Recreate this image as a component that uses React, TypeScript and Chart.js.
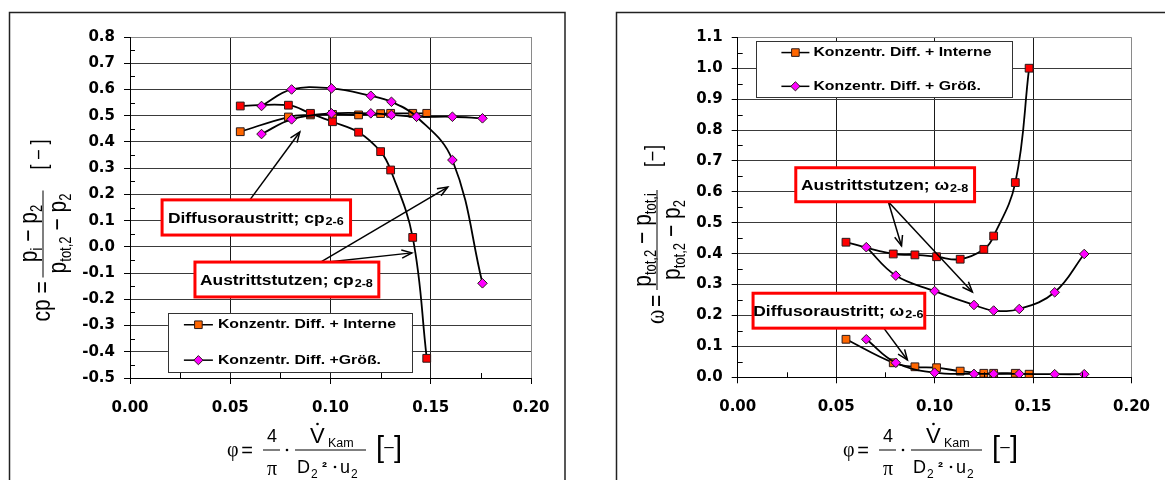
import React, { useEffect, useRef } from 'react';
import { Chart, registerables } from 'chart.js';

Chart.register(...registerables);

// ---------------- Left chart: pressure recovery cp ----------------
const phiInterneCp = [0.055, 0.079, 0.090, 0.101, 0.114, 0.125, 0.130, 0.141, 0.148];
const cp26Interne = [0.439, 0.495, 0.503, 0.505, 0.503, 0.508, 0.509, 0.509, 0.509];
const cp28Interne = [0.537, 0.540, 0.509, 0.477, 0.437, 0.363, 0.293, 0.036, -0.425];
const phiGroessCp = [0.0656, 0.0806, 0.1005, 0.1201, 0.1304, 0.1429, 0.1608, 0.1758];
const cp26Groess = [0.430, 0.486, 0.509, 0.509, 0.503, 0.496, 0.496, 0.490];
const cp28Groess = [0.537, 0.600, 0.604, 0.576, 0.553, 0.496, 0.331, -0.139];

// ---------------- Right chart: loss coefficient omega ----------------
const phiInterneOm = [0.055, 0.079, 0.090, 0.101, 0.113, 0.125, 0.130, 0.141, 0.148];
const om28Interne = [0.437, 0.399, 0.396, 0.390, 0.382, 0.414, 0.457, 0.630, 1.000];
const om26Interne = [0.123, 0.047, 0.034, 0.031, 0.020, 0.013, 0.013, 0.013, 0.010];
const phiGroessOm = [0.0653, 0.0803, 0.1000, 0.1200, 0.1300, 0.1430, 0.1610, 0.1760];
const om28Groess = [0.421, 0.329, 0.279, 0.234, 0.216, 0.221, 0.275, 0.399];
const om26Groess = [0.123, 0.047, 0.015, 0.011, 0.011, 0.011, 0.010, 0.010];

// ---------------- Axis ticks & labels ----------------
const xTickValues = [0, 0.05, 0.1, 0.15, 0.2];
const yTickValuesCp = [-0.5, -0.4, -0.3, -0.2, -0.1, 0, 0.1, 0.2, 0.3, 0.4, 0.5, 0.6, 0.7, 0.8];
const yTickValuesOm = [0, 0.1, 0.2, 0.3, 0.4, 0.5, 0.6, 0.7, 0.8, 0.9, 1.0, 1.1];

const legendLabelsCp = ['Konzentr. Diff. + Interne', 'Konzentr. Diff. +Größ.'];
const legendLabelsOm = ['Konzentr. Diff. + Interne', 'Konzentr. Diff. + Größ.'];

const seriesLabelsCp = ['cp2-8 Größ.', 'cp2-6 Größ.', 'cp2-8 Interne', 'cp2-6 Interne'];
const seriesLabelsOm = ['ω2-8 Größ.', 'ω2-6 Größ.', 'ω2-8 Interne', 'ω2-6 Interne'];

// ---------------- Styling ----------------
const RED = '#FF0000';
const ORANGE = '#FF6600';
const MAGENTA = '#FF00FF';
const SANS = '"Liberation Sans", Arial, sans-serif';
const SERIF = '"Liberation Serif", "Times New Roman", serif';
const TICK_FONT = { family: '"DejaVu Sans", sans-serif', size: 15, weight: 'bold' as const };
const SX = 1.2;

function series(label: string, xs: number[], ys: number[], color: string, shape: string) {
  return {
    label,
    data: xs.map((x, i) => ({ x, y: ys[i] })),
    showLine: true,
    borderColor: '#000',
    borderWidth: 1.8,
    tension: 0.4,
    fill: false,
    pointStyle: shape,
    pointRadius: shape === 'rect' ? 5.5 : 4.8,
    pointHoverRadius: shape === 'rect' ? 5.5 : 4.8,
    pointBackgroundColor: color,
    pointBorderColor: '#2a1a1a',
    pointBorderWidth: 1,
  };
}

type Run = { t: string; size: number; dy?: number; fam?: string; bold?: boolean };

function setFont(ctx: CanvasRenderingContext2D, r: Run) {
  ctx.font = `${r.bold ? 'bold ' : ''}${r.size}px ${r.fam || SANS}`;
}
function runsWidth(ctx: CanvasRenderingContext2D, runs: Run[]) {
  let w = 0;
  for (const r of runs) {
    setFont(ctx, r);
    w += ctx.measureText(r.t).width;
  }
  return w;
}
function drawRuns(ctx: CanvasRenderingContext2D, runs: Run[], x: number, y: number) {
  let cx = x;
  for (const r of runs) {
    setFont(ctx, r);
    ctx.fillText(r.t, cx, y + (r.dy || 0));
    cx += ctx.measureText(r.t).width;
  }
}

function drawBrackets(ctx: CanvasRenderingContext2D, x1: number, x2: number, base: number, size: number, dashSize: number, dashDy: number) {
  ctx.font = `${size}px ${SANS}`;
  ctx.textAlign = 'left';
  ctx.fillText('[', x1, base);
  ctx.textAlign = 'right';
  ctx.fillText(']', x2, base);
  ctx.textAlign = 'center';
  ctx.font = `${dashSize}px ${SANS}`;
  ctx.fillText('–', (x1 + x2) / 2, base + dashDy);
  ctx.textAlign = 'left';
}

function drawYTitle(ctx: CanvasRenderingContext2D, kind: string, cx: number, cy: number) {
  ctx.save();
  ctx.translate(cx, cy);
  ctx.rotate(-Math.PI / 2);
  ctx.scale(1, 1.25);
  ctx.fillStyle = '#000';
  ctx.textBaseline = 'alphabetic';
  ctx.textAlign = 'left';
  const sub = 13;
  if (kind === 'cp') {
    drawRuns(ctx, [{ t: 'cp =', size: 21 }], -88, 5.5);
    const num: Run[] = [{ t: 'p', size: 21 }, { t: 'i', size: sub, dy: 4 }, { t: ' − p', size: 21 }, { t: '2', size: sub, dy: 4 }];
    const den: Run[] = [{ t: 'p', size: 21 }, { t: 'tot,2', size: sub, dy: 4 }, { t: ' − p', size: 21 }, { t: '2', size: sub, dy: 4 }];
    drawRuns(ctx, num, -runsWidth(ctx, num) / 2, -5);
    drawRuns(ctx, den, -runsWidth(ctx, den) / 2, 18);
    ctx.fillRect(-44, -0.4, 87, 0.8);
    drawBrackets(ctx, 64, 94, 2, 18, 16, -1);
  } else {
    drawRuns(ctx, [{ t: 'ω', size: 22, fam: SERIF }], -84, 5.5);
    drawRuns(ctx, [{ t: '=', size: 21 }], -67, 5.5);
    const num: Run[] = [{ t: 'p', size: 21 }, { t: 'tot,2', size: sub, dy: 4 }, { t: ' − p', size: 21 }, { t: 'tot,i', size: sub, dy: 4 }];
    const den: Run[] = [{ t: 'p', size: 21 }, { t: 'tot,2', size: sub, dy: 4 }, { t: ' − p', size: 21 }, { t: '2', size: sub, dy: 4 }];
    drawRuns(ctx, num, -runsWidth(ctx, num) / 2, -5);
    drawRuns(ctx, den, -runsWidth(ctx, den) / 2, 18);
    ctx.fillRect(-50, -0.4, 100, 0.8);
    drawBrackets(ctx, 73, 95, 2, 18, 16, -1);
  }
  ctx.restore();
}

function drawXTitle(ctx: CanvasRenderingContext2D, x0: number, y0: number) {
  ctx.save();
  ctx.fillStyle = '#000';
  ctx.textBaseline = 'alphabetic';
  ctx.textAlign = 'left';
  drawRuns(ctx, [{ t: 'φ', size: 20, fam: SERIF }], x0, y0 + 6);
  ctx.textAlign = 'center';
  ctx.font = `20px ${SANS}`;
  ctx.fillText('=', x0 + 20, y0 + 7);
  ctx.font = `18px ${SANS}`;
  ctx.fillText('4', x0 + 45, y0 - 8);
  ctx.font = `20px ${SERIF}`;
  ctx.fillText('π', x0 + 45, y0 + 25);
  ctx.textAlign = 'left';
  ctx.fillRect(x0 + 36, y0 - 0.5, 17, 1);
  ctx.beginPath();
  ctx.arc(x0 + 60, y0, 1.3, 0, Math.PI * 2);
  ctx.fill();
  ctx.fillRect(x0 + 68, y0 - 0.5, 71, 1);
  drawRuns(ctx, [{ t: 'V', size: 22 }], x0 + 83, y0 - 7);
  ctx.beginPath();
  ctx.arc(x0 + 90.5, y0 - 26, 1.3, 0, Math.PI * 2);
  ctx.fill();
  drawRuns(ctx, [{ t: 'Kam', size: 12.5 }], x0 + 101, y0 - 3);
  drawRuns(ctx, [{ t: 'D', size: 18 }], x0 + 70, y0 + 23);
  drawRuns(ctx, [{ t: '2', size: 12 }], x0 + 84, y0 + 28);
  drawRuns(ctx, [{ t: '²', size: 15, bold: true }], x0 + 95, y0 + 22);
  ctx.beginPath();
  ctx.arc(x0 + 108, y0 + 17, 1.3, 0, Math.PI * 2);
  ctx.fill();
  drawRuns(ctx, [{ t: 'u', size: 18 }], x0 + 113, y0 + 23);
  drawRuns(ctx, [{ t: '2', size: 12 }], x0 + 124, y0 + 28);
  drawBrackets(ctx, x0 + 149, x0 + 175, y0 + 7, 29, 17, -5);
  ctx.restore();
}

function drawArrow(ctx: CanvasRenderingContext2D, x1: number, y1: number, x2: number, y2: number) {
  ctx.beginPath();
  ctx.moveTo(x1, y1);
  ctx.lineTo(x2, y2);
  ctx.stroke();
  const a = Math.atan2(y2 - y1, x2 - x1);
  const L = 11;
  const sp = 0.38;
  ctx.beginPath();
  ctx.moveTo(x2 - L * Math.cos(a - sp), y2 - L * Math.sin(a - sp));
  ctx.lineTo(x2, y2);
  ctx.lineTo(x2 - L * Math.cos(a + sp), y2 - L * Math.sin(a + sp));
  ctx.stroke();
}

function stretchedText(ctx: CanvasRenderingContext2D, text: string, x: number, y: number) {
  ctx.save();
  ctx.translate(x, y);
  ctx.scale(SX, 1);
  ctx.fillText(text, 0, 0);
  ctx.restore();
}

function drawMarker(ctx: CanvasRenderingContext2D, shape: string, x: number, y: number, color: string) {
  ctx.save();
  ctx.fillStyle = color;
  ctx.strokeStyle = '#2a1a1a';
  ctx.lineWidth = 1;
  ctx.beginPath();
  if (shape === 'rect') {
    ctx.rect(x - 3.8, y - 3.8, 7.6, 7.6);
  } else {
    ctx.moveTo(x - 4.6, y);
    ctx.lineTo(x, y - 4.6);
    ctx.lineTo(x + 4.6, y);
    ctx.lineTo(x, y + 4.6);
    ctx.closePath();
  }
  ctx.fill();
  ctx.stroke();
  ctx.restore();
}

type Box = { x1: number; x2: number; y1: number; y2: number; text: string; sub: string };
type Arrow = { from: [number, number]; to: [number, number] };
type Legend = { x1: number; x2: number; y1: number; y2: number; ls: number; le: number; tx: number; labels: string[] };

type Spec = {
  datasets: any[];
  yMin: number;
  yMax: number;
  yTicks: number[];
  padTop: number;
  padRight: number;
  yWidth: number;
  xHeight: number;
  frame: { left: number; top: number; right: number | null };
  yKind: string;
  yTitle: [number, number];
  xTitle: [number, number];
  boxes: Box[];
  arrows: Arrow[];
  legend: Legend;
};

function buildChart(canvas: HTMLCanvasElement, spec: Spec) {
  const yMinor = spec.yTicks.slice(1).map((v, i) => (v + spec.yTicks[i]) / 2);
  const xMinor = xTickValues.slice(1).map((v, i) => (v + xTickValues[i]) / 2);

  const plugin = {
    id: 'decor',
    beforeDraw(chart: any) {
      const ctx: CanvasRenderingContext2D = chart.ctx;
      const f = spec.frame;
      ctx.save();
      ctx.strokeStyle = '#222';
      ctx.lineWidth = 1.5;
      ctx.beginPath();
      ctx.moveTo(f.left, 490);
      ctx.lineTo(f.left, f.top);
      if (f.right !== null) {
        ctx.lineTo(f.right, f.top);
        ctx.lineTo(f.right, 490);
      } else {
        ctx.lineTo(chart.width + 5, f.top);
      }
      ctx.stroke();
      ctx.restore();
    },
    afterDraw(chart: any) {
      const ctx: CanvasRenderingContext2D = chart.ctx;
      const xs = chart.scales.x;
      const ys = chart.scales.y;
      const ca = chart.chartArea;
      const px = (v: number) => xs.getPixelForValue(v);
      const py = (v: number) => ys.getPixelForValue(v);
      ctx.save();
      // minor ticks (inside)
      ctx.strokeStyle = '#000';
      ctx.lineWidth = 1;
      for (const v of yMinor) {
        const p = Math.round(py(v)) + 0.5;
        ctx.beginPath();
        ctx.moveTo(ca.left, p);
        ctx.lineTo(ca.left + 5, p);
        ctx.stroke();
      }
      for (const v of xMinor) {
        const p = Math.round(px(v)) + 0.5;
        ctx.beginPath();
        ctx.moveTo(p, ca.bottom);
        ctx.lineTo(p, ca.bottom - 5);
        ctx.stroke();
      }
      // arrows
      ctx.strokeStyle = '#000';
      ctx.lineWidth = 1.5;
      for (const a of spec.arrows) {
        drawArrow(ctx, px(a.from[0]), py(a.from[1]), px(a.to[0]), py(a.to[1]));
      }
      // annotation boxes
      for (const b of spec.boxes) {
        const l = px(b.x1), r = px(b.x2), t = py(b.y1), bt = py(b.y2);
        ctx.fillStyle = '#fff';
        ctx.fillRect(l, t, r - l, bt - t);
        ctx.strokeStyle = RED;
        ctx.lineWidth = 3;
        ctx.strokeRect(l, t, r - l, bt - t);
        ctx.fillStyle = '#000';
        ctx.textAlign = 'left';
        ctx.textBaseline = 'alphabetic';
        ctx.font = `bold 14.5px ${SANS}`;
        const w1 = ctx.measureText(b.text).width * SX;
        ctx.font = `bold 10.5px ${SANS}`;
        const w2 = ctx.measureText(b.sub).width * SX;
        const x0 = (l + r) / 2 - (w1 + w2) / 2 - 1;
        const base = (t + bt) / 2 + 5.5;
        ctx.font = `bold 14.5px ${SANS}`;
        stretchedText(ctx, b.text, x0, base);
        ctx.font = `bold 10.5px ${SANS}`;
        stretchedText(ctx, b.sub, x0 + w1 + 1, base + 2);
      }
      // legend
      const lg = spec.legend;
      const l = px(lg.x1), r = px(lg.x2), t = py(lg.y1), bt = py(lg.y2);
      ctx.fillStyle = '#fff';
      ctx.fillRect(l, t, r - l, bt - t);
      ctx.strokeStyle = '#333';
      ctx.lineWidth = 1;
      ctx.strokeRect(Math.round(l) + 0.5, Math.round(t) + 0.5, Math.round(r - l), Math.round(bt - t));
      const entries = [
        { label: lg.labels[0], color: ORANGE, shape: 'rect' },
        { label: lg.labels[1], color: MAGENTA, shape: 'rectRot' },
      ];
      entries.forEach((e, i) => {
        const y = t + (i === 0 ? 0.2 : 0.8) * (bt - t);
        ctx.strokeStyle = '#000';
        ctx.lineWidth = 1.5;
        ctx.beginPath();
        ctx.moveTo(l + lg.ls, y);
        ctx.lineTo(l + lg.le, y);
        ctx.stroke();
        drawMarker(ctx, e.shape, l + (lg.ls + lg.le) / 2, y, e.color);
        ctx.fillStyle = '#000';
        ctx.font = `bold 13.2px ${SANS}`;
        ctx.textBaseline = 'middle';
        ctx.textAlign = 'left';
        stretchedText(ctx, e.label, l + lg.tx, y);
      });
      ctx.restore();
      // axis titles
      drawYTitle(ctx, spec.yKind, spec.yTitle[0], spec.yTitle[1]);
      drawXTitle(ctx, spec.xTitle[0], spec.xTitle[1]);
    },
  };

  return new Chart(canvas, {
    type: 'scatter',
    data: { datasets: spec.datasets },
    plugins: [plugin],
    options: {
      animation: false,
      responsive: false,
      maintainAspectRatio: false,
      devicePixelRatio: 1,
      events: [],
      layout: { padding: { left: 0, top: spec.padTop, right: spec.padRight, bottom: 0 } },
      plugins: { legend: { display: false }, tooltip: { enabled: false }, title: { display: false } },
      scales: {
        x: {
          type: 'linear',
          min: 0,
          max: 0.2,
          afterBuildTicks: (s: any) => {
            s.ticks = xTickValues.map((v) => ({ value: v }));
          },
          afterFit: (s: any) => {
            s.height = spec.xHeight;
          },
          ticks: {
            callback: (v: any) => Number(v).toFixed(2),
            font: TICK_FONT,
            color: '#000',
            padding: 15,
            maxRotation: 0,
            autoSkip: false,
          },
          grid: {
            color: (c: any) => (c.tick && Math.abs(c.tick.value - 0.2) < 1e-9 ? '#8a8a8a' : '#1a1a1a'),
            lineWidth: 1,
            drawTicks: true,
            tickLength: 6,
            tickColor: '#000',
          },
          border: { display: true, color: '#000', width: 1 },
        },
        y: {
          type: 'linear',
          min: spec.yMin,
          max: spec.yMax,
          afterBuildTicks: (s: any) => {
            s.ticks = spec.yTicks.map((v) => ({ value: v }));
          },
          afterFit: (s: any) => {
            s.width = spec.yWidth;
          },
          ticks: {
            callback: (v: any) => Number(v).toFixed(1),
            font: TICK_FONT,
            color: '#000',
            padding: 9,
            autoSkip: false,
          },
          grid: {
            color: (c: any) => (c.tick && Math.abs(c.tick.value - spec.yMax) < 1e-9 ? '#8a8a8a' : '#3a3a3a'),
            lineWidth: 1,
            drawTicks: true,
            tickLength: 6,
            tickColor: '#000',
          },
          border: { display: true, color: '#000', width: 1 },
        },
      },
    } as any,
  });
}

const leftSpec: Spec = {
  datasets: [
    series(seriesLabelsCp[0], phiGroessCp, cp28Groess, MAGENTA, 'rectRot'),
    series(seriesLabelsCp[1], phiGroessCp, cp26Groess, MAGENTA, 'rectRot'),
    series(seriesLabelsCp[2], phiInterneCp, cp28Interne, RED, 'rect'),
    series(seriesLabelsCp[3], phiInterneCp, cp26Interne, ORANGE, 'rect'),
  ],
  yMin: -0.5,
  yMax: 0.8,
  yTicks: yTickValuesCp,
  padTop: 37,
  padRight: 51,
  yWidth: 130,
  xHeight: 102,
  frame: { left: 9.5, top: 12.5, right: 565 },
  yKind: 'cp',
  yTitle: [43, 233.5],
  xTitle: [227, 450],
  boxes: [
    { x1: 0.016, x2: 0.110, y1: 0.179, y2: 0.045, text: 'Diffusoraustritt; cp', sub: '2-6' },
    { x1: 0.0324, x2: 0.1241, y1: -0.058, y2: -0.191, text: 'Austrittstutzen; cp', sub: '2-8' },
  ],
  arrows: [
    { from: [0.0598, 0.179], to: [0.0847, 0.438] },
    { from: [0.0942, -0.062], to: [0.1585, 0.228] },
    { from: [0.0942, -0.062], to: [0.1406, -0.023] },
  ],
  legend: { x1: 0.0189, x2: 0.1406, y1: -0.252, y2: -0.477, ls: 16, le: 45, tx: 50, labels: legendLabelsCp },
};

const rightSpec: Spec = {
  datasets: [
    series(seriesLabelsOm[0], phiGroessOm, om28Groess, MAGENTA, 'rectRot'),
    series(seriesLabelsOm[1], phiGroessOm, om26Groess, MAGENTA, 'rectRot'),
    series(seriesLabelsOm[2], phiInterneOm, om28Interne, RED, 'rect'),
    series(seriesLabelsOm[3], phiInterneOm, om26Interne, ORANGE, 'rect'),
  ],
  yMin: 0,
  yMax: 1.1,
  yTicks: yTickValuesOm,
  padTop: 37.3,
  padRight: 27.3,
  yWidth: 154.7,
  xHeight: 102.7,
  frame: { left: 33.5, top: 12.5, right: null },
  yKind: 'om',
  yTitle: [74, 240],
  xTitle: [260, 450],
  boxes: [
    { x1: 0.0295, x2: 0.1203, y1: 0.678, y2: 0.568, text: 'Austrittstutzen; ω', sub: '2-8' },
    { x1: 0.0078, x2: 0.095, y1: 0.272, y2: 0.159, text: 'Diffusoraustritt; ω', sub: '2-6' },
  ],
  arrows: [
    { from: [0.0765, 0.568], to: [0.0832, 0.425] },
    { from: [0.0765, 0.568], to: [0.1192, 0.276] },
    { from: [0.0742, 0.159], to: [0.0862, 0.056] },
  ],
  legend: { x1: 0.0095, x2: 0.1395, y1: 1.087, y2: 0.905, ls: 25, le: 53, tx: 57, labels: legendLabelsOm },
};

export default function App() {
  const leftRef = useRef<HTMLCanvasElement>(null);
  const rightRef = useRef<HTMLCanvasElement>(null);

  useEffect(() => {
    const c1 = buildChart(leftRef.current as HTMLCanvasElement, leftSpec);
    const c2 = buildChart(rightRef.current as HTMLCanvasElement, rightSpec);
    return () => {
      c1.destroy();
      c2.destroy();
    };
  }, []);

  return (
    <div style={{ position: 'absolute', left: 0, top: 0, width: 1165, height: 480, background: '#fff', overflow: 'hidden' }}>
      <canvas ref={leftRef} width={582} height={480} style={{ position: 'absolute', left: 0, top: 0, width: 582, height: 480 }} />
      <canvas ref={rightRef} width={582} height={480} style={{ position: 'absolute', left: 583, top: 0, width: 582, height: 480 }} />
    </div>
  );
}
